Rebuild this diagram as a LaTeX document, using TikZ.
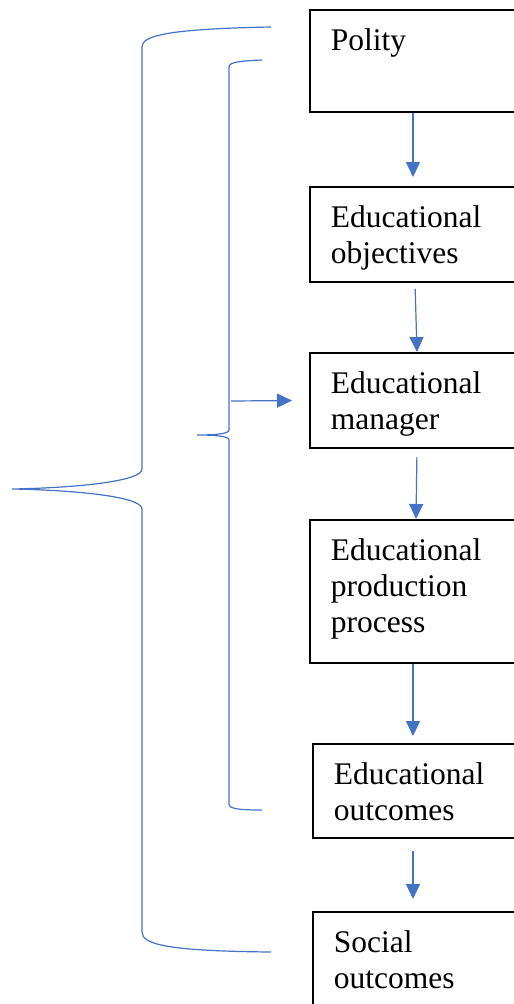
\documentclass[tikz,border=0pt]{standalone}
\usepackage{fontspec}
\setmainfont{Liberation Serif}
\usetikzlibrary{arrows.meta}
\definecolor{wordblue}{HTML}{4472C4}

\begin{document}
\begin{tikzpicture}[x=1pt, y=-1pt,
    box/.style={draw, line width=1.8pt, anchor=north west, align=left,
      text width=200pt, inner xsep=21pt, inner ysep=0pt, text height=41pt,
      font=\fontsize{31.5}{36}\selectfont},
    flow/.style={wordblue, line width=1.2pt,
      -{Triangle[width=14pt, length=15pt]}},
    brace/.style={wordblue, line width=1.2pt}]
  \useasboundingbox (0, 0) rectangle (514, 1004);
  \clip (0, 0) rectangle (514, 1004);

  % The chain of boxes
  \node[box, text depth=61pt] (polity) at (309, 9) {Polity};
  \node[box, text depth=54pt] (objectives) at (309, 186) {Educational\\objectives};
  \node[box, text depth=54pt] (manager) at (309, 352) {Educational\\manager};
  \node[box, text depth=102pt] (process) at (309, 519) {Educational\\production\\process};
  \node[box, text depth=53pt] (eduout) at (312, 743) {Educational\\outcomes};
  \node[box, text depth=55pt] (socout) at (312, 911) {Social\\outcomes};

  \draw[flow, shorten >=9pt] ([xshift=104pt]polity.south west) -- ([xshift=104pt]objectives.north west);
  \draw[flow, shorten <=6pt] ([xshift=106pt]objectives.south west) -- ([xshift=108pt]manager.north west);
  \draw[flow, shorten <=8pt] ([xshift=108pt]manager.south west) -- ([xshift=107pt]process.north west);
  \draw[flow, shorten >=7pt] ([xshift=104pt]process.south west) -- ([xshift=101pt]eduout.north west);
  \draw[flow, shorten <=12pt, shorten >=12pt] ([xshift=101pt]eduout.south west) -- ([xshift=101pt]socout.north west);

  % Outer brace
  \draw[brace] (271, 27) .. controls (165, 29) and (142, 36) .. (142, 47)
    -- (142, 469) .. controls (142, 482) and (70, 488) .. (12, 489)
    .. controls (70, 490) and (142, 496) .. (142, 509)
    -- (142, 932) .. controls (142, 944) and (165, 951) .. (271, 952);

  % Inner brace
  \draw[brace] (262, 60) .. controls (240, 61) and (229, 62) .. (229, 67)
    -- (229, 430) .. controls (229, 434) and (214, 435) .. (197, 435)
    .. controls (214, 435) and (229, 436) .. (229, 440)
    -- (229, 804) .. controls (229, 809) and (240, 810) .. (262, 810);

  \coordinate (tip) at (231, 401);
  \draw[flow, shorten >=17pt] (tip) -- (manager.west);
\end{tikzpicture}
\end{document}
